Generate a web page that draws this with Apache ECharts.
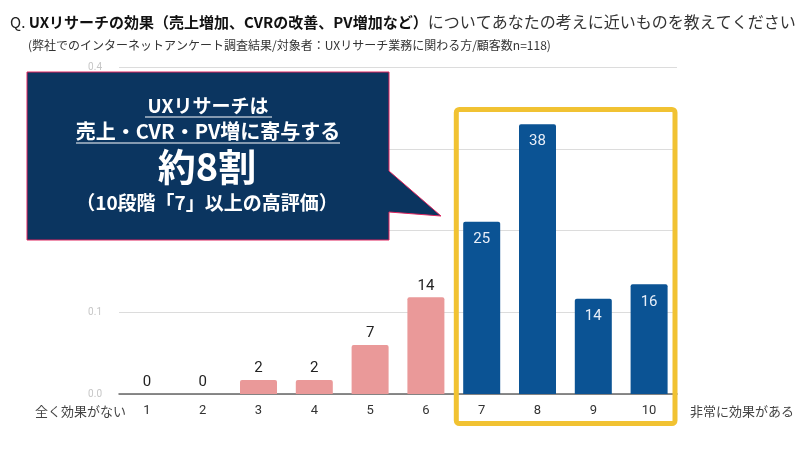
<!DOCTYPE html>
<html><head><meta charset="utf-8">
<script src="https://cdn.jsdelivr.net/npm/echarts@6/dist/echarts.min.js"></script>
<style>html,body{margin:0;padding:0;background:#fff}#c{width:800px;height:450px}</style>
</head><body><div id="c"></div>
<script>
const categories = ['1','2','3','4','5','6','7','8','9','10'];
const shares = [0, 0, 0.0171, 0.0171, 0.060, 0.1183, 0.2108, 0.330, 0.1166, 0.1342];
const counts = [0, 0, 2, 2, 7, 14, 25, 38, 14, 16];
const highGroupStart = 6; // index of "7"
const yTicks = [0, 0.1, 0.2, 0.3, 0.4];
const leftEndLabel = '全く効果がない';
const rightEndLabel = '非常に効果がある';

const FONT = '"Noto Sans CJK JP", "Noto Sans", sans-serif';
const PINK = '#ea9999', BLUE = '#0b5394', YELLOW = '#f1c232', NAVY = '#0b3560';

const chart = echarts.init(document.getElementById('c'), null, {renderer: 'canvas'});

const seriesData = shares.map((v, i) => {
  const high = i >= highGroupStart;
  return {
    value: v,
    itemStyle: {color: high ? BLUE : PINK, borderRadius: [2, 2, 0, 0]},
    label: high ? {position: 'insideTop', distance: 10, color: '#e8eef8'} : {position: 'top', distance: 4, color: '#222'}
  };
});

const option = {
  animation: false,
  textStyle: {fontFamily: FONT},
  grid: {left: 119, right: 123, top: 67, bottom: 56},
  xAxis: {
    type: 'category', data: categories,
    axisLine: {lineStyle: {color: '#666', width: 1.5}},
    axisTick: {show: false},
    axisLabel: {color: '#333', fontSize: 13, margin: 10, fontFamily: 'Roboto, sans-serif'}
  },
  yAxis: {
    type: 'value', min: 0, max: yTicks[yTicks.length - 1], interval: 0.1,
    axisLine: {show: false}, axisTick: {show: false},
    splitLine: {lineStyle: {color: '#dcdcdc', width: 1}},
    axisLabel: {color: '#c6c6c6', fontSize: 10, margin: 17, fontFamily: 'Roboto, sans-serif',
      formatter: v => v.toFixed(1)}
  },
  series: [{
    type: 'bar', data: seriesData, barWidth: 37,
    label: {show: true, fontSize: 15, fontFamily: 'Roboto, sans-serif',
      formatter: p => String(counts[p.dataIndex])}
  }]
};
chart.setOption(option);

// annotation positions derived from the axes
const x7 = chart.convertToPixel({xAxisIndex: 0}, categories[highGroupStart]);
const x8 = chart.convertToPixel({xAxisIndex: 0}, categories[highGroupStart + 1]);
const x10 = chart.convertToPixel({xAxisIndex: 0}, categories[categories.length - 1]);
const band = x8 - x7;
const boxL = x7 - band / 2 + 1, boxR = x10 + band / 2 - 0.5;

chart.setOption({
  graphic: [
    {type: 'text', left: 10, top: 14, z: 100, style: {
      rich: {
        q: {fontSize: 15, fontFamily: FONT, fill: '#222'},
        b: {fontSize: 15, fontWeight: 'bold', fontFamily: FONT, fill: '#111'},
        n: {fontSize: 16, fontFamily: FONT, fill: '#333'}
      },
      text: '{q|Q. }{b|UXリサーチの効果（売上増加、CVRの改善、PV増加など）}{n|についてあなたの考えに近いものを教えてください}'
    }},
    {type: 'text', left: 28, top: 39, z: 100, style: {
      text: '(弊社でのインターネットアンケート調査結果/対象者：UXリサーチ業務に関わる方/顧客数n=118)',
      fontSize: 12, fontFamily: FONT, fill: '#333'
    }},
    {type: 'text', z: 100, style: {x: 126, y: 411, text: leftEndLabel, align: 'right', verticalAlign: 'middle',
      fontSize: 13, fontFamily: FONT, fill: '#444'}},
    {type: 'text', z: 100, style: {x: 690, y: 411, text: rightEndLabel, align: 'left', verticalAlign: 'middle',
      fontSize: 13, fontFamily: FONT, fill: '#444'}},
    {type: 'rect', z: 90, shape: {x: boxL + 1.5, y: 109.5, width: boxR - boxL - 3, height: 314, r: 3},
      style: {fill: 'none', stroke: YELLOW, lineWidth: 5}},
    {type: 'polygon', z: 100, shape: {points: [[27,72],[389,72],[389,171],[441,216],[389,212],[389,240],[27,240]]},
      style: {fill: NAVY, stroke: '#e0245e', lineWidth: 1}},
    {type: 'text', z: 101, style: {x: 208, y: 106, text: 'UXリサーチは', align: 'center', verticalAlign: 'middle',
      fontSize: 19, fontWeight: 'bold', fontFamily: FONT, fill: '#fff'}},
    {type: 'line', z: 101, shape: {x1: 145, y1: 117, x2: 272, y2: 117}, style: {stroke: '#fff', lineWidth: 1.2}},
    {type: 'text', z: 101, style: {x: 208, y: 131, text: '売上・CVR・PV増に寄与する', align: 'center', verticalAlign: 'middle',
      fontSize: 20, fontWeight: 'bold', fontFamily: FONT, fill: '#fff'}},
    {type: 'line', z: 101, shape: {x1: 76, y1: 143, x2: 340, y2: 143}, style: {stroke: '#fff', lineWidth: 1.2}},
    {type: 'text', z: 101, style: {x: 207, y: 167, text: '約8割', align: 'center', verticalAlign: 'middle',
      fontSize: 38, fontWeight: 'bold', fontFamily: FONT, fill: '#fff'}},
    {type: 'text', z: 101, style: {x: 207, y: 203, text: '（10段階「7」以上の高評価）', align: 'center', verticalAlign: 'middle',
      fontSize: 19, fontWeight: 'bold', fontFamily: FONT, fill: '#fff'}}
  ]
});
</script></body></html>
